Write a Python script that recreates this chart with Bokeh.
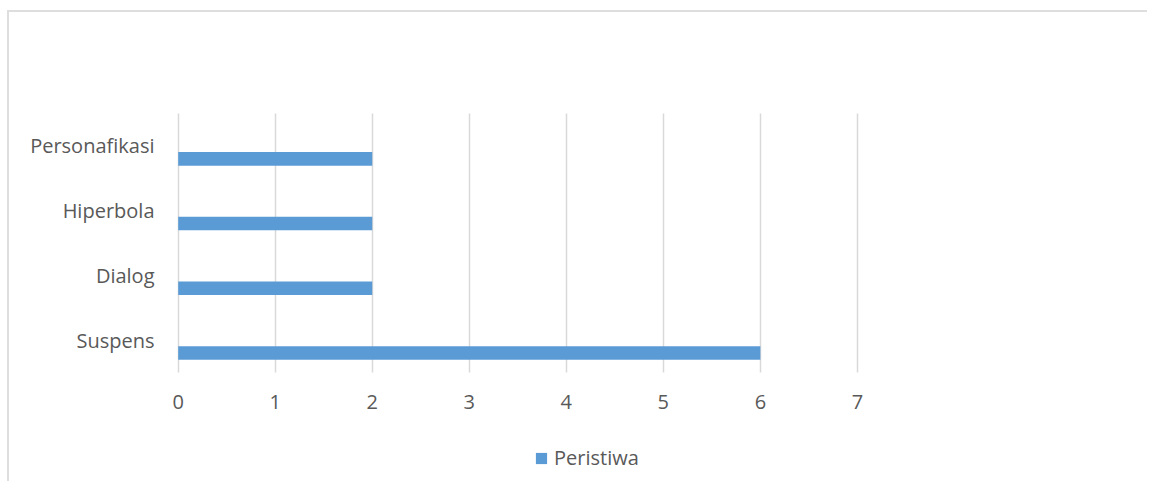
from bokeh.plotting import figure
from bokeh.models import FactorRange, Range1d, FixedTicker, ColumnDataSource, Legend, LegendItem
from bokeh.transform import dodge
from bokeh.embed import file_html
from bokeh.resources import INLINE

categories = ["Suspens", "Dialog", "Hiperbola", "Personafikasi"]
peristiwa = [6, 2, 2, 2]
x_ticks = [0, 1, 2, 3, 4, 5, 6, 7]
series_name = "Peristiwa"

FONT = "Open Sans"
TXT = "#595959"
FS = "20px"

src = ColumnDataSource(data=dict(cat=categories, val=peristiwa))

p = figure(width=1140, height=471, output_backend="svg", toolbar_location=None,
           y_range=FactorRange(factors=categories, range_padding=0.78),
           x_range=Range1d(-0.1, 7.3),
           min_border_left=159, min_border_right=263, min_border_top=0, min_border_bottom=10)
p.styles = {"border-left": "2px solid #dedede", "border-top": "2px solid #dedede",
            "margin-top": "10px", "margin-left": "7px"}

r = p.hbar(y=dodge("cat", -0.2, range=p.y_range), right="val", left=0, height=0.21,
           source=src, color="#5b9bd5", line_color=None)

p.outline_line_color = None
p.background_fill_color = "white"
p.border_fill_color = "white"

p.ygrid.grid_line_color = None
p.xgrid.ticker = FixedTicker(ticks=x_ticks)
p.xgrid.grid_line_color = "#d9d9d9"
p.xgrid.grid_line_width = 1.5
p.xgrid.cross_bounds = (0, len(categories))

p.xaxis.ticker = FixedTicker(ticks=x_ticks)
p.xaxis.fixed_location = 0
for ax in (p.xaxis[0], p.yaxis[0]):
    ax.axis_line_color = None
    ax.major_tick_line_color = None
    ax.minor_tick_line_color = None
    ax.major_tick_out = 0
    ax.major_tick_in = 0
    ax.major_label_text_font = FONT
    ax.major_label_text_font_size = FS
    ax.major_label_text_color = TXT
p.xaxis.major_label_standoff = 23
p.yaxis.major_label_standoff = 14

legend = Legend(items=[LegendItem(label=series_name, renderers=[r])],
                location=(366, 2), orientation="horizontal",
                glyph_width=14, glyph_height=14, label_text_font=FONT,
                label_text_font_size=FS, label_text_color=TXT,
                padding=0, margin=0, spacing=0, label_standoff=6,
                border_line_color=None, background_fill_alpha=0)
p.add_layout(legend, "center")

open("out.html", "w").write(file_html(p, INLINE))
